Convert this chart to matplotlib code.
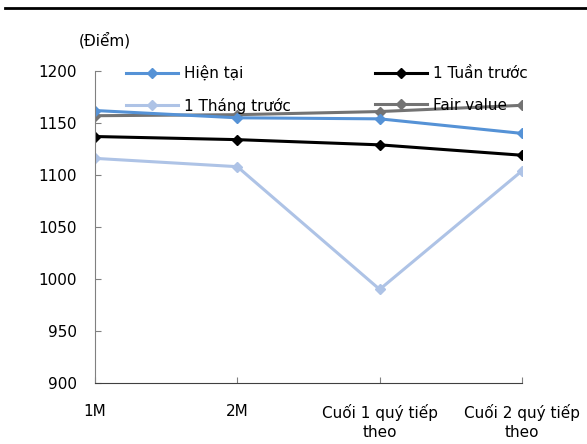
import matplotlib.pyplot as plt
from matplotlib.lines import Line2D

categories = ["1M", "2M", "Cuối 1 quý tiếp\ntheo", "Cuối 2 quý tiếp\ntheo"]
hien_tai = [1162, 1155, 1154, 1140]
tuan_truoc = [1137, 1134, 1129, 1119]
thang_truoc = [1116, 1108, 990, 1104]
fair_value = [1157, 1158, 1161, 1167]

plt.rcParams["font.family"] = ["DejaVu Sans"]
plt.rcParams["font.size"] = 11

fig = plt.figure(figsize=(5.87, 4.44), dpi=100)
ax = fig.add_axes([95 / 587, 1 - 383 / 444, (522 - 95) / 587, (383 - 71) / 444])

x = range(len(categories))
ax.plot(x, thang_truoc, color="#aec3e6", marker="D", ms=5.5, lw=2.2, label="1 Tháng trước")
ax.plot(x, tuan_truoc, color="black", marker="D", ms=5.5, lw=2.2, label="1 Tuần trước")
ax.plot(x, fair_value, color="#737373", marker="D", ms=5.5, lw=2.2, label="Fair value")
ax.plot(x, hien_tai, color="#5592d6", marker="D", ms=5.5, lw=2.2, label="Hiện tại")

ax.set_xlim(0, 3)
ax.set_ylim(900, 1200)
ax.set_yticks(range(900, 1201, 50))
ax.set_xticks(list(x))
ax.set_xticklabels(categories, linespacing=1.35)
ax.tick_params(axis="both", direction="in", length=4, color="#808080")
ax.tick_params(axis="x", pad=15)
ax.tick_params(axis="y", pad=13)
for s in ["top", "right"]:
    ax.spines[s].set_visible(False)
ax.spines["left"].set_color("#808080")
ax.spines["bottom"].set_color("#404040")

fig.text(79 / 587, 1 - 40 / 444, "(Điểm)", ha="left", va="center")

h = {l.get_label(): l for l in ax.get_lines()}
order = ["Hiện tại", "1 Tháng trước", "1 Tuần trước", "Fair value"]
ax.legend([h[k] for k in order], order, ncol=2, frameon=False, handlelength=3.4,
          handletextpad=0.4, columnspacing=5.5, labelspacing=1.1,
          borderpad=0, borderaxespad=0,
          loc="upper left", bbox_to_anchor=(0.073, 1.017))

fig.add_artist(Line2D([5 / 587, 1], [1 - 8 / 444] * 2, color="black", lw=2))

fig.savefig("out.png", dpi=100)
